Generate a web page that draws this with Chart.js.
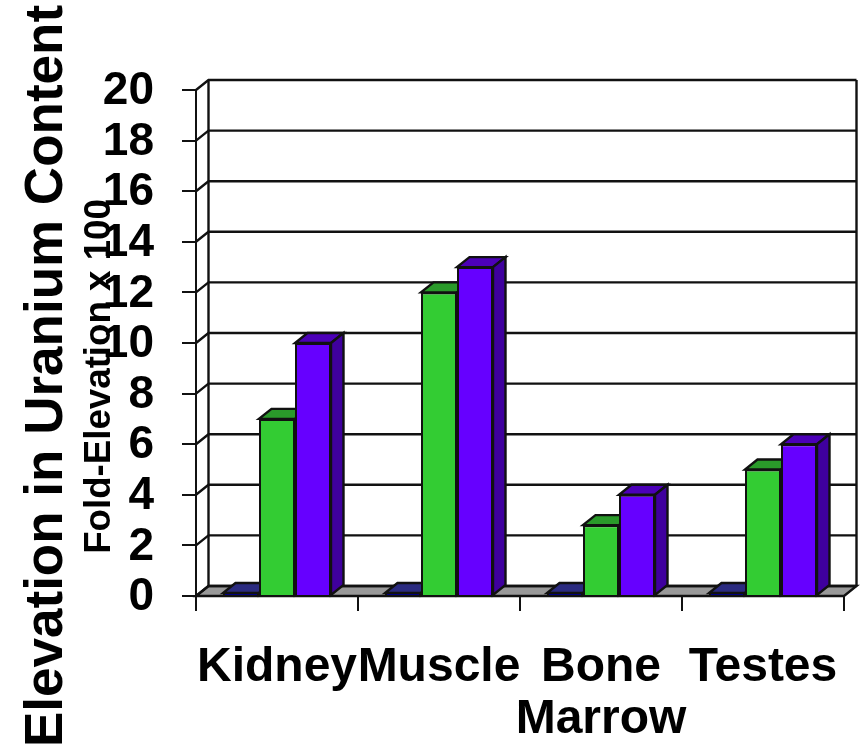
<!DOCTYPE html>
<html>
<head>
<meta charset="utf-8">
<script src="https://cdn.jsdelivr.net/npm/chart.js@4"></script>
<style>
  html, body { margin: 0; padding: 0; background: #fff; }
  canvas { display: block; }
</style>
</head>
<body>
<canvas id="chart" width="864" height="750"></canvas>
<script>
const categories = ['Kidney', 'Muscle', ['Bone', 'Marrow'], 'Testes'];
const seriesBlue = [0.12, 0.12, 0.12, 0.12];
const seriesGreen = [7, 12, 2.8, 5];
const seriesPurple = [10, 13, 4, 6];
const yTicksMax = 20;
const yTickStep = 2;
const outerTitle = 'Elevation in Uranium Content';
const innerTitle = 'Fold-Elevation x 100';

const DEPTH_X = 12.5;
const DEPTH_Y = 10;
const LINE = '#111';
const FONT = '"Liberation Sans", Arial, sans-serif';

function poly(ctx, pts, fill) {
    ctx.beginPath();
    pts.forEach((p, i) => i ? ctx.lineTo(p[0], p[1]) : ctx.moveTo(p[0], p[1]));
    ctx.closePath();
    ctx.fillStyle = fill;
    ctx.fill();
    ctx.stroke();
}

function sideTitle(ctx, text, baselineX, centerY, size) {
    ctx.save();
    ctx.fillStyle = '#000';
    ctx.textAlign = 'center';
    ctx.textBaseline = 'alphabetic';
    ctx.translate(baselineX, centerY);
    ctx.rotate(-Math.PI / 2);
    ctx.font = 'bold ' + size + 'px ' + FONT;
    ctx.fillText(text, 0, 0);
    ctx.restore();
}

// walls, floor and the top/side faces of the bars, under the native front faces
const box3d = {
    id: 'box3d',
    beforeDatasetsDraw(chart) {
        const { ctx, chartArea: a, scales: { y } } = chart;
        ctx.save();
        ctx.strokeStyle = LINE;
        ctx.lineWidth = 2.4;

        const y0 = y.getPixelForValue(0);
        poly(ctx, [[a.left, y0], [a.right, y0], [a.right + DEPTH_X, y0 - DEPTH_Y], [a.left + DEPTH_X, y0 - DEPTH_Y]], '#999999');

        y.ticks.forEach(t => {
            const py = y.getPixelForValue(t.value);
            ctx.beginPath();
            ctx.moveTo(a.left, py);
            ctx.lineTo(a.left + DEPTH_X, py - DEPTH_Y);
            ctx.lineTo(a.right + DEPTH_X, py - DEPTH_Y);
            ctx.stroke();
        });
        [a.left + DEPTH_X, a.right + DEPTH_X].forEach(px => {
            ctx.beginPath();
            ctx.moveTo(px, a.top - DEPTH_Y);
            ctx.lineTo(px, y0 - DEPTH_Y);
            ctx.stroke();
        });

        chart.data.datasets.forEach((ds, i) => {
            chart.getDatasetMeta(i).data.forEach(bar => {
                const l = bar.x - bar.width / 2;
                const r = bar.x + bar.width / 2;
                poly(ctx, [[l, bar.y], [r, bar.y], [r + DEPTH_X, bar.y - DEPTH_Y], [l + DEPTH_X, bar.y - DEPTH_Y]], ds.topColor);
                poly(ctx, [[r, bar.y], [r + DEPTH_X, bar.y - DEPTH_Y], [r + DEPTH_X, bar.base - DEPTH_Y], [r, bar.base]], ds.sideColor);
            });
        });
        ctx.restore();
    },
    afterDraw(chart) {
        sideTitle(chart.ctx, outerTitle, 62, 376, 53);
        sideTitle(chart.ctx, innerTitle, 110, 376.5, 36.7);
    }
};

new Chart(document.getElementById('chart'), {
    type: 'bar',
    data: {
        labels: categories,
        datasets: [
            { data: seriesBlue, backgroundColor: '#000080', topColor: '#2B2B80', sideColor: '#000060' },
            { data: seriesGreen, backgroundColor: '#33CC33', topColor: '#2A9A2A', sideColor: '#2A9A2A' },
            { data: seriesPurple, backgroundColor: '#6600FF', topColor: '#4C00B8', sideColor: '#3F009E' }
        ].map(ds => Object.assign(ds, {
            borderColor: LINE,
            borderWidth: 2,
            categoryPercentage: 2 / 3,
            barPercentage: 1
        }))
    },
    options: {
        responsive: false,
        animation: false,
        layout: { padding: { top: 90, right: 20, left: 0, bottom: 0 } },
        plugins: { legend: { display: false }, tooltip: { enabled: false } },
        scales: {
            x: {
                afterFit(scale) {
                    scale.height = 154;
                    scale.paddingLeft = 0;
                    scale.paddingRight = 0;
                },
                border: { display: true, color: LINE, width: 2 },
                grid: { drawOnChartArea: false, drawTicks: true, tickLength: 15, color: LINE, lineWidth: 2 },
                ticks: {
                    color: '#000',
                    padding: 30,
                    maxRotation: 0,
                    autoSkip: false,
                    font: { family: FONT, weight: 'bold', size: 48, lineHeight: 1.1 }
                }
            },
            y: {
                min: 0,
                max: yTicksMax,
                afterFit(scale) { scale.width = 196; },
                border: { display: true, color: LINE, width: 2 },
                grid: { drawOnChartArea: false, drawTicks: true, tickLength: 14, color: LINE, lineWidth: 2 },
                ticks: {
                    color: '#000',
                    padding: 28,
                    stepSize: yTickStep,
                    autoSkip: false,
                    labelOffset: 1.5,
                    font: { family: FONT, weight: 'bold', size: 46 }
                }
            }
        }
    },
    plugins: [box3d]
});
</script>
</body>
</html>
